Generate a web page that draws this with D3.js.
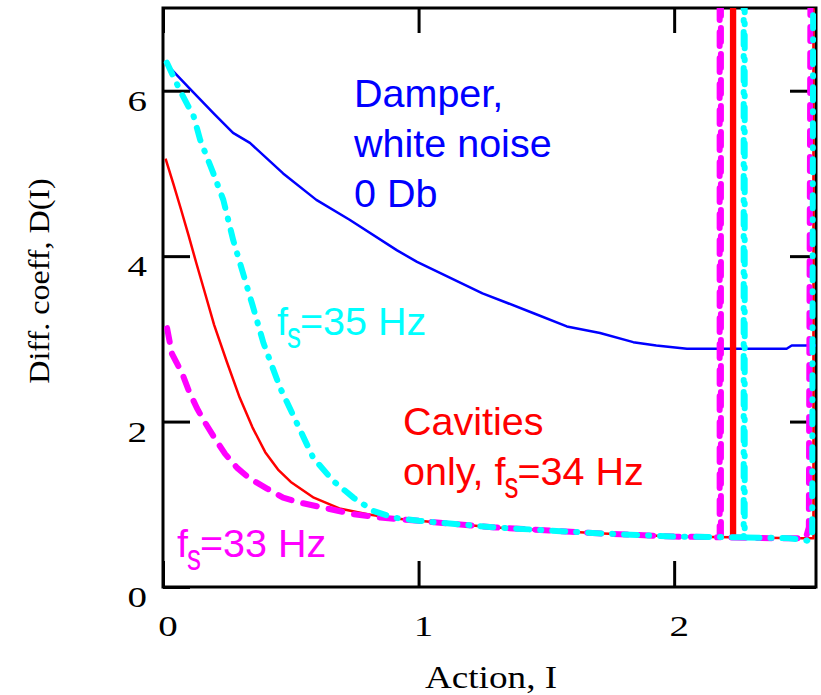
<!DOCTYPE html>
<html>
<head>
<meta charset="utf-8">
<script src="https://cdn.jsdelivr.net/npm/d3@7"></script>
<style>
  body { margin: 0; background: #fff; }
  svg { display: block; }
</style>
</head>
<body>
<div id="container"></div>
<script>
// DATA

const xTicks = [0, 1, 2]
const yTicks = [0, 2, 4, 6]

// [action I, D(I)]
const damper = [[0.02,6.3],[0.1,6.04],[0.2,5.72],[0.274,5.49],[0.34,5.37],[0.47,5.0],[0.6,4.68],
  [0.73,4.44],[0.916,4.07],[0.994,3.93],[1.25,3.55],[1.35,3.43],[1.45,3.31],[1.58,3.15],[1.71,3.07],
  [1.84,2.96],[1.93,2.92],[2.05,2.88],[2.44,2.88],[2.46,2.92],[2.56,2.92]]

const cav34 = [[0.01,5.18],[0.04,4.88],[0.07,4.57],[0.1,4.25],[0.13,3.92],[0.16,3.6],[0.2,3.17],
  [0.25,2.72],[0.3,2.29],[0.35,1.93],[0.4,1.63],[0.45,1.42],[0.5,1.27],[0.59,1.08],[0.69,0.95],[0.8,0.88],
  [0.9,0.83],[1.0,0.8],[1.3,0.72],[1.7,0.65],[2.0,0.61],
  [2.223,0.6],[2.223,9],[2.228,9],[2.228,0.6],[2.233,0.6],[2.233,9],[2.238,9],[2.238,0.6],
  [2.5,0.59],[2.545,0.59],[2.545,9]]

const fs33 = [[0.016,3.13],[0.035,2.82],[0.074,2.59],[0.1,2.38],[0.133,2.16],[0.164,1.99],[0.204,1.79],
  [0.243,1.61],[0.29,1.44],[0.34,1.31],[0.407,1.19],[0.47,1.08],[0.536,1.02],[0.642,0.95],[0.744,0.88],
  [0.85,0.84],[1.0,0.8],[1.3,0.72],[1.7,0.65],[2.0,0.61],[2.178,0.6],[2.178,9],[2.183,9],[2.183,0.6],
  [2.4,0.59],[2.515,0.59],[2.527,0.72],[2.535,9]]

const fs35 = [[0.015,6.34],[0.067,6.0],[0.12,5.69],[0.145,5.41],[0.197,5.0],[0.236,4.68],[0.275,4.19],
  [0.35,3.41],[0.393,2.95],[0.458,2.41],[0.524,1.98],[0.588,1.56],[0.667,1.28],[0.745,1.08],[0.823,0.92],
  [0.9,0.84],[1.0,0.8],[1.3,0.72],[1.7,0.65],[2.0,0.61],[2.272,0.6],[2.272,9],[2.276,9],[2.276,0.6],
  [2.45,0.59],[2.52,0.56],[2.54,0.6],[2.545,9]]

// VARIABLES

const width = 821,
      height = 695,
      plot = {left: 163, right: 816, top: 8, bottom: 587}

const serif = "'Liberation Serif', 'Times New Roman', serif"
const sans = "'Liberation Sans', Arial, sans-serif"

// SCALES

const xScale = d3.scaleLinear()
    .domain([0, 2.555])
    .range([plot.left, plot.right])

const yScale = d3.scaleLinear()
    .domain([0, 7])
    .range([plot.bottom, plot.top])

// ELEMENTS

const svg = d3.select("#container")
    .append("svg")
    .attr("width", width)
    .attr("height", height)

svg.append("defs").append("clipPath")
    .attr("id", "clip")
  .append("rect")
    .attr("x", plot.left)
    .attr("y", plot.top)
    .attr("width", plot.right - plot.left)
    .attr("height", plot.bottom - plot.top)

// frame
svg.append("rect")
    .attr("x", plot.left)
    .attr("y", plot.top)
    .attr("width", plot.right - plot.left)
    .attr("height", plot.bottom - plot.top)
    .attr("fill", "none")
    .attr("stroke", "#000")
    .attr("stroke-width", 3)

// inward ticks on all four sides
const axes = [
  [d3.axisBottom(xScale).tickValues(xTicks).tickSize(-26), `translate(0,${plot.bottom})`],
  [d3.axisTop(xScale).tickValues(xTicks).tickSize(-25), `translate(0,${plot.top})`],
  [d3.axisLeft(yScale).tickValues(yTicks).tickSize(-27), `translate(${plot.left},0)`],
  [d3.axisRight(yScale).tickValues(yTicks).tickSize(-26), `translate(${plot.right},0)`]
]
axes.forEach(([ax, tr]) => {
  const g = svg.append("g")
      .attr("transform", tr)
      .call(ax.tickFormat(""))
  g.select(".domain").remove()
  g.selectAll(".tick line").attr("stroke", "#000").attr("stroke-width", 3)
})

// tick labels
svg.selectAll(".xlab")
  .data(xTicks)
  .join("text")
    .attr("class", "xlab")
    .attr("transform", d => `translate(${xScale(d) + 5},636) scale(1.3,1)`)
    .attr("text-anchor", "middle")
    .attr("font-family", serif)
    .attr("font-size", 30)
    .text(d => d)

svg.selectAll(".ylab")
  .data(yTicks)
  .join("text")
    .attr("class", "ylab")
    .attr("transform", d => `translate(147,${yScale(d) + 20}) scale(1.3,1)`)
    .attr("text-anchor", "end")
    .attr("font-family", serif)
    .attr("font-size", 30)
    .text(d => d)

// axis titles
svg.append("text")
    .attr("transform", "translate(491,688) scale(1.2,1)")
    .attr("text-anchor", "middle")
    .attr("font-family", serif)
    .attr("font-size", 31)
    .text("Action, I")

svg.append("text")
    .attr("transform", "translate(49,281) rotate(-90) scale(1.07,1)")
    .attr("text-anchor", "middle")
    .attr("font-family", serif)
    .attr("font-size", 30)
    .text("Diff. coeff, D(I)")

// CURVES

const line = d3.line()
    .x(d => xScale(d[0]))
    .y(d => yScale(d[1]))

const curves = svg.append("g").attr("clip-path", "url(#clip)")

const series = [
  {data: damper, color: "#0000ff", w: 2.5, dash: null},
  {data: cav34, color: "#ff0000", w: 2.5, dash: null},
  {data: fs33, color: "#ff00ff", w: 6, dash: "14 12"},
  {data: fs35, color: "#00ffff", w: 6, dash: "13 11 1 11"}
]

curves.selectAll("path")
  .data(series)
  .join("path")
    .attr("d", d => line(d.data))
    .attr("fill", "none")
    .attr("stroke", d => d.color)
    .attr("stroke-width", d => d.w)
    .attr("stroke-dasharray", d => d.dash)
    .attr("stroke-linecap", d => d.dash ? "round" : "butt")
    .attr("stroke-linejoin", "round")

// ANNOTATIONS

const plain = [
  {t: "Damper,", x: 354, y: 107, c: "#0000ff"},
  {t: "white noise", x: 354, y: 157, c: "#0000ff"},
  {t: "0 Db", x: 354, y: 207, c: "#0000ff"},
  {t: "Cavities", x: 403, y: 435, c: "#ff0000"}
]
svg.selectAll(".note")
  .data(plain)
  .join("text")
    .attr("class", "note")
    .attr("x", d => d.x)
    .attr("y", d => d.y)
    .attr("fill", d => d.c)
    .attr("font-family", sans)
    .attr("font-size", 39.5)
    .text(d => d.t)

const subbed = [
  {pre: "f", rest: "=35 Hz", x: 277, y: 335, c: "#00ffff"},
  {pre: "only, f", rest: "=34 Hz", x: 403, y: 485, c: "#ff0000"},
  {pre: "f", rest: "=33 Hz", x: 177, y: 557, c: "#ff00ff"}
]
subbed.forEach(d => {
  const a = svg.append("text")
      .attr("x", d.x).attr("y", d.y)
      .attr("fill", d.c).attr("font-family", sans).attr("font-size", 39.5)
      .text(d.pre)
  const w1 = a.node().getComputedTextLength()
  const s = svg.append("text")
      .attr("transform", `translate(${d.x + w1 - 1},${d.y + 13}) scale(1,1.3)`)
      .attr("fill", d.c).attr("font-family", sans).attr("font-size", 28)
      .text("s")
  const w2 = s.node().getComputedTextLength()
  svg.append("text")
      .attr("x", d.x + w1 + w2 - 2).attr("y", d.y)
      .attr("fill", d.c).attr("font-family", sans).attr("font-size", 39.5)
      .text(d.rest)
})
</script>
</body>
</html>
